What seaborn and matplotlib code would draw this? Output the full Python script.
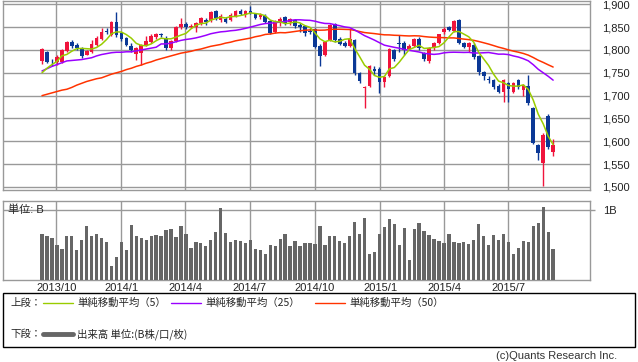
import numpy as np
import pandas as pd
import matplotlib
matplotlib.use('Agg')
import matplotlib.pyplot as plt
from matplotlib.patches import Rectangle
from matplotlib.lines import Line2D
import seaborn as sns

sns.set_theme(style='white')
plt.rcParams['font.family'] = ['Liberation Sans', 'Noto Sans CJK JP', 'DejaVu Sans']

# weekly candles, first week of the chart
START = '2013-09-11'

opens = [1776, 1795, 1776, 1774, 1774, 1798, 1817, 1811, 1804, 1790,
         1796, 1811, 1824, 1841, 1833, 1861, 1837, 1826, 1808, 1791,
         1794, 1811, 1818, 1828, 1835, 1826, 1804, 1820, 1850, 1857,
         1850, 1851, 1859, 1866, 1865, 1885, 1865, 1868, 1866, 1874,
         1885, 1876, 1885, 1880, 1872, 1875, 1863, 1840, 1858, 1872,
         1862, 1865, 1855, 1853, 1842, 1846, 1809, 1789, 1822, 1857,
         1824, 1816, 1809, 1821, 1749, 1717, 1721, 1759, 1758, 1729,
         1743, 1801, 1816, 1815, 1802, 1809, 1824, 1793, 1776, 1804,
         1815, 1840, 1850, 1842, 1866, 1816, 1806, 1811, 1787, 1752,
         1736, 1734, 1721, 1709, 1727, 1709, 1734, 1712, 1722, 1674,
         1592, 1552, 1655, 1577]
highs = [1805, 1798, 1780, 1788, 1803, 1820, 1822, 1815, 1806, 1800,
         1822, 1830, 1849, 1848, 1864, 1883, 1840, 1828, 1815, 1806,
         1813, 1830, 1835, 1838, 1838, 1830, 1822, 1852, 1870, 1862,
         1856, 1862, 1873, 1870, 1885, 1888, 1878, 1872, 1880, 1888,
         1890, 1887, 1896, 1882, 1880, 1879, 1866, 1866, 1872, 1874,
         1870, 1868, 1858, 1855, 1848, 1848, 1812, 1820, 1857, 1860,
         1828, 1820, 1846, 1824, 1752, 1722, 1767, 1765, 1762, 1744,
         1805, 1803, 1833, 1820, 1812, 1826, 1828, 1796, 1806, 1817,
         1836, 1850, 1852, 1865, 1868, 1818, 1817, 1815, 1789, 1755,
         1742, 1736, 1725, 1737, 1730, 1730, 1737, 1725, 1745, 1676,
         1594, 1618, 1660, 1605]
lows = [1770, 1772, 1765, 1768, 1772, 1795, 1805, 1800, 1783, 1788,
        1794, 1809, 1822, 1835, 1830, 1828, 1820, 1808, 1795, 1778,
        1768, 1808, 1815, 1825, 1828, 1800, 1800, 1818, 1845, 1845,
        1847, 1840, 1855, 1855, 1862, 1866, 1862, 1858, 1864, 1872,
        1876, 1873, 1878, 1868, 1868, 1858, 1835, 1838, 1852, 1855,
        1855, 1848, 1840, 1830, 1835, 1805, 1765, 1787, 1820, 1818,
        1810, 1806, 1807, 1745, 1728, 1673, 1718, 1745, 1705, 1718,
        1740, 1775, 1796, 1790, 1800, 1806, 1800, 1776, 1771, 1800,
        1812, 1836, 1842, 1840, 1814, 1804, 1796, 1780, 1745, 1735,
        1728, 1715, 1705, 1687, 1685, 1705, 1715, 1700, 1680, 1594,
        1560, 1503, 1583, 1567]
closes = [1802, 1774, 1775, 1785, 1800, 1817, 1809, 1804, 1787, 1797,
          1813, 1826, 1839, 1839, 1861, 1833, 1824, 1811, 1800, 1804,
          1811, 1820, 1831, 1835, 1832, 1804, 1820, 1850, 1857, 1850,
          1853, 1859, 1870, 1862, 1883, 1869, 1874, 1862, 1877, 1885,
          1879, 1885, 1880, 1870, 1877, 1862, 1838, 1862, 1868, 1858,
          1868, 1852, 1850, 1838, 1840, 1807, 1787, 1818, 1855, 1822,
          1813, 1809, 1824, 1749, 1732, 1719, 1765, 1755, 1730, 1741,
          1802, 1780, 1814, 1800, 1809, 1824, 1804, 1780, 1804, 1815,
          1834, 1845, 1844, 1863, 1816, 1806, 1815, 1785, 1752, 1744,
          1734, 1720, 1709, 1734, 1714, 1727, 1720, 1723, 1684, 1596,
          1574, 1614, 1588, 1592]
# volume in B
volumes = [0.657, 0.629, 0.6, 0.5, 0.443, 0.629, 0.629, 0.429, 0.571, 0.771,
           0.629, 0.657, 0.6, 0.543, 0.2, 0.329, 0.543, 0.429, 0.786, 0.629,
           0.6, 0.571, 0.629, 0.643, 0.629, 0.714, 0.729, 0.614, 0.771, 0.657,
           0.457, 0.543, 0.529, 0.486, 0.571, 0.686, 1.029, 0.671, 0.543, 0.571,
           0.557, 0.529, 0.571, 0.443, 0.429, 0.371, 0.5, 0.486, 0.586, 0.657,
           0.486, 0.557, 0.486, 0.529, 0.529, 0.514, 0.771, 0.5, 0.629, 0.629,
           0.557, 0.529, 0.629, 0.829, 0.657, 0.886, 0.371, 0.4, 0.657, 0.757,
           0.871, 0.8, 0.5, 0.743, 0.286, 0.729, 0.814, 0.7, 0.643, 0.586,
           0.557, 0.529, 0.657, 0.543, 0.529, 0.543, 0.514, 0.571, 0.8, 0.629,
           0.5, 0.643, 0.571, 0.657, 0.543, 0.371, 0.457, 0.557, 0.543, 0.771,
           0.814, 1.043, 0.686, 0.443]

# moving average values before enough weeks are on the chart
ma5_head = [1750, 1760, 1768, 1775]
ma25_head = [1754, 1759, 1764, 1768, 1772, 1776, 1777, 1778, 1779, 1781,
             1783, 1787, 1790, 1792, 1794, 1795, 1795, 1796, 1796, 1798,
             1800, 1802, 1804, 1806]
ma50_head = [1700, 1703, 1706, 1709, 1712, 1714, 1718, 1723, 1727, 1731,
             1734, 1737, 1739, 1743, 1747, 1750, 1753, 1757, 1760, 1764,
             1767, 1771, 1774, 1778, 1781, 1784, 1787, 1790, 1793, 1795,
             1797, 1800, 1802, 1805, 1808, 1810, 1812, 1815, 1817, 1820,
             1822, 1824, 1826, 1829, 1831, 1834, 1835, 1837, 1838]

tick_dates = ['2013-10-01', '2014-01-01', '2014-04-01', '2014-07-01',
              '2014-10-01', '2015-01-01', '2015-04-01', '2015-07-01']
tick_labels = ['2013/10', '2014/1', '2014/4', '2014/7',
               '2014/10', '2015/1', '2015/4', '2015/7']
price_ticks = [1500, 1550, 1600, 1650, 1700, 1750, 1800, 1850, 1900]

RED = '#f0143c'
BLUE = '#0b3896'
GREEN = '#99cc00'
PURPLE = '#9a00ff'
ORANGE = '#ff3300'
GRID = '#999999'
VOL = '#666666'

df = pd.DataFrame({'date': pd.date_range(START, periods=len(closes), freq='7D'),
                   'open': opens, 'high': highs, 'low': lows, 'close': closes,
                   'volume': volumes})


def moving_average(s, window, head):
    ma = s.rolling(window).mean()
    ma.iloc[:len(head)] = head
    return ma


df['ma5'] = moving_average(df['close'], 5, ma5_head)
df['ma25'] = moving_average(df['close'], 25, ma25_head)
df['ma50'] = moving_average(df['close'], 50, ma50_head)

W, H = 638, 362
fig = plt.figure(figsize=(W / 100, H / 100), dpi=100)
fig.patch.set_facecolor('white')

left, right = 3.3, 590
ax = fig.add_axes([left / W, 1 - 190 / H, (right - left) / W, 189 / H])
axv = fig.add_axes([left / W, 1 - 280 / H, (right - left) / W, 79 / H], sharex=ax)

# candles
up = df['close'] >= df['open']
colors = np.where(up, RED, BLUE)
ax.vlines(df['date'], df['low'], df['high'], color=colors, lw=1, zorder=3)
body_low = np.minimum(df['open'], df['close'])
body_h = np.maximum((df['close'] - df['open']).abs(), 1.8)
ax.bar(df['date'], body_h, bottom=body_low, width=5.2, color=colors,
       linewidth=0, zorder=4)

for col, c in (('ma50', ORANGE), ('ma25', PURPLE), ('ma5', GREEN)):
    sns.lineplot(data=df, x='date', y=col, ax=ax, color=c, lw=1.1,
                 estimator=None, zorder=5)

x0 = df['date'].iloc[0]
ax.set_xlim(x0 - pd.Timedelta(days=54.6), x0 + pd.Timedelta(days=773))
ax.set_ylim(1493.4, 1907.2)
ax.set_yticks(price_ticks)
ax.set_yticklabels([f'{v:,}' for v in price_ticks])
ax.yaxis.tick_right()
ax.tick_params(axis='y', length=0, pad=8.5, labelsize=8, colors='#222222')
ticks = pd.to_datetime(tick_dates)
ax.set_xticks(ticks)
ax.tick_params(axis='x', length=0, labelbottom=False)
ax.grid(True, color=GRID, lw=1)
ax.set_axisbelow(True)
ax.set_xlabel('')
ax.set_ylabel('')

# volume
axv.bar(df['date'], df['volume'], width=4.7, color=VOL, linewidth=0, zorder=3)
axv.set_ylim(0, 1.129)
axv.set_yticks([1.0])
axv.set_yticklabels(['1B'])
axv.yaxis.tick_right()
axv.tick_params(axis='y', length=3.6, width=1, color=GRID, pad=5.5,
                labelsize=8, labelcolor='#222222')
axv.set_xticks(ticks)
axv.set_xticklabels(tick_labels)
axv.tick_params(axis='x', length=0, pad=2.5, labelsize=8, labelcolor='#222222')
axv.grid(True, color=GRID, lw=1)
axv.set_axisbelow(True)
axv.text(5 / (right - left), 0.886, '単位: B', transform=axv.transAxes,
         fontsize=8, va='center', ha='left', zorder=6)

for a in (ax, axv):
    for sp in a.spines.values():
        sp.set_color(GRID)
        sp.set_linewidth(1)
        sp.set_visible(True)

# legend box
fig.add_artist(Rectangle((3 / W, 1 - 347 / H), 632 / W, 54 / H,
                         transform=fig.transFigure, fill=False,
                         ec='black', lw=1))
cjk = ['Noto Sans CJK JP', 'DejaVu Sans']
y1 = 1 - 303 / H
y2 = 1 - 334 / H
fig.text(10 / W, y1, '上段：', fontsize=7.5, va='center', family=cjk)
fig.text(10 / W, y2, '下段：', fontsize=7.5, va='center', family=cjk)
items = [(43, GREEN, '単純移動平均（5）'), (171, PURPLE, '単純移動平均（25）'),
         (315, ORANGE, '単純移動平均（50）')]
for x, c, label in items:
    fig.add_artist(Line2D([x / W, (x + 30) / W], [y1, y1], color=c, lw=1,
                          transform=fig.transFigure))
    fig.text((x + 34) / W, y1, label, fontsize=7.5, va='center', family=cjk)
fig.add_artist(Line2D([43 / W, 73 / W], [y2, y2], color=VOL, lw=3.5,
                      transform=fig.transFigure))
fig.text(77 / W, y2, '出来高 単位:(B株/口/枚)', fontsize=7.5, va='center', family=cjk)

fig.text(617 / W, 1 - 356 / H, '(c)Quants Research Inc.', fontsize=8,
         ha='right', va='center', color='#333333')

fig.savefig('out.png', dpi=100)
